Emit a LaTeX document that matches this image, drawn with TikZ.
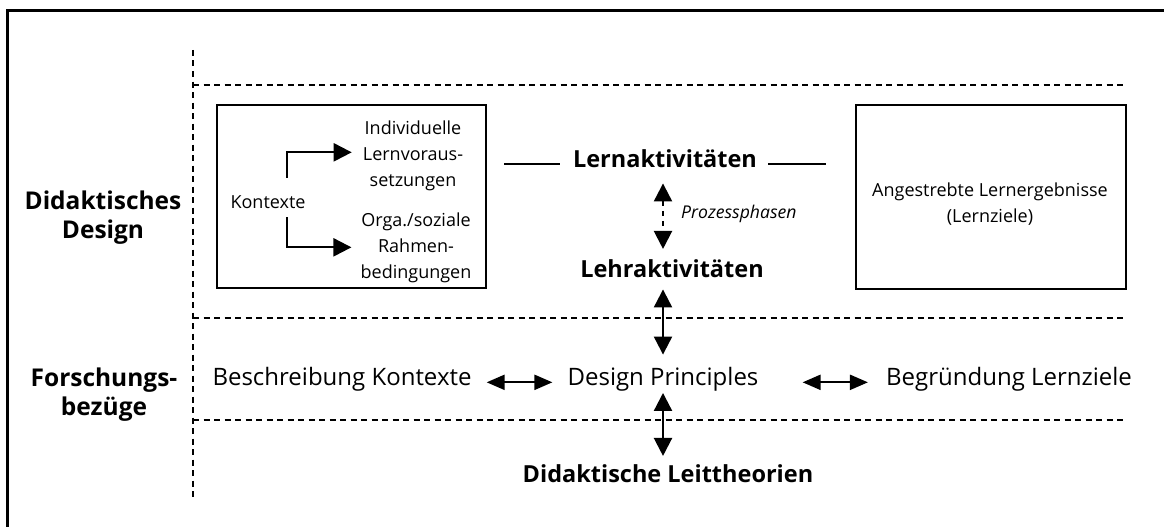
\documentclass[tikz,border=0pt]{standalone}
\usepackage{fontspec}
\setmainfont{Open Sans}
\usetikzlibrary{arrows.meta}

\tikzset{
  frameline/.style={line width=3pt},
  guide/.style={line width=2.1pt, dash pattern=on 6pt off 4.5pt},
  panel/.style={draw, line width=2.5pt, inner sep=0pt},
  rowlabel/.style={inner sep=0pt, align=center, anchor=base,
    font=\fontsize{24.5}{29}\selectfont\bfseries},
  bigtext/.style={inner sep=0pt, anchor=base, font=\fontsize{24}{29}\selectfont},
  headtext/.style={inner sep=0pt, anchor=base, font=\fontsize{23.5}{26}\selectfont\bfseries},
  boxtext/.style={inner sep=0pt, align=center, anchor=base, font=\fontsize{18}{26}\selectfont},
  tri/.style={-{Triangle[length=18pt,width=18pt]}, line width=2.2pt},
  vboth/.style={{Triangle[length=18pt,width=18pt]}-{Triangle[length=18pt,width=18pt]}, line width=2.2pt},
  hboth/.style={{Triangle[length=18pt,width=15pt]}-{Triangle[length=18pt,width=15pt]}, line width=2.2pt},
  plainline/.style={line width=2.2pt},
}

\begin{document}
\begin{tikzpicture}[x=1pt,y=-1pt]
  \useasboundingbox (0,0) rectangle (1164,527);
  \clip (0,0) rectangle (1164,527);

  % outer frame (left and top edges)
  \draw[frameline] (7,540) -- (7,11) -- (1180,11);

  % section guides
  \draw[guide] (193,50) -- (193,497);
  \draw[guide] (193,85) -- (1125,85);
  \draw[guide] (193,318) -- (1125,318);
  \draw[guide] (193,420) -- (1125,420);

  % row labels
  \node[rowlabel] (dd) at (103,238) {Didaktisches\\Design};
  \node[rowlabel] (fb) at (104,415) {Forschungs-\\bezüge};

  % context panel
  \node[panel, minimum width=269pt, minimum height=183pt] (ctx) at (351.5,196.5) {};
  \node[boxtext] (kon) at (268,208) {Kontexte};
  \node[boxtext] (ind) at (413,186) {Individuelle\\Lernvoraus-\\setzungen};
  \node[boxtext] (orga) at (416,278) {Orga./soziale\\Rahmen-\\bedingungen};

  % goals panel
  \node[panel, minimum width=270pt, minimum height=184pt] (goal) at (991,197) {};
  \node[boxtext] (goaltext) at (990,222) {Angestrebte Lernergebnisse\\(Lernziele)};

  % centre column
  \coordinate (axis) at (663,0);
  \node[headtext] (lern) at (665,167) {Lernaktivitäten};
  \node[headtext] (lehr) at (672,277) {Lehraktivitäten};
  \node[inner sep=0pt, anchor=base west, font=\fontsize{17.6}{22}\selectfont\itshape] (phase) at (681,218) {Prozessphasen};
  \node[headtext] (leit) at (668,482) {Didaktische Leittheorien};

  % research row
  \node[bigtext] (besch) at (342,385) {Beschreibung Kontexte};
  \node[bigtext] (dp) at (663,385) {Design Principles};
  \node[bigtext] (begr) at (1009,385) {Begründung Lernziele};

  % connectors inside the context panel
  \draw[tri] ([xshift=19pt,yshift=17pt]kon.north) |- ([xshift=-11pt,yshift=3pt]ind.west);
  \draw[tri] ([xshift=19pt,yshift=-9pt]kon.south) |- ([xshift=-9pt]orga.west);

  % lines from the learning activities to both panels
  \draw[plainline, shorten <=17pt, shorten >=13pt] (ctx.east |- lern.mid west) -- (lern.mid west);
  \draw[plainline, shorten <=11pt, shorten >=29pt] (lern.mid east) -- (goal.west |- lern.mid east);

  % vertical links
  \draw[vboth, dash pattern=on 5pt off 5pt, shorten <=16pt, shorten >=10pt] (lern.south -| axis) -- (lehr.north -| axis);
  \draw[vboth, shorten <=12pt, shorten >=12pt] (lehr.south -| axis) -- (dp.north -| axis);
  \draw[vboth, shorten <=2pt, shorten >=8pt] (dp.south -| axis) -- (leit.north -| axis);

  % horizontal links
  \draw[hboth, shorten <=15pt, shorten >=15pt] (besch.mid east) -- (dp.mid west);
  \draw[hboth, shorten <=44pt, shorten >=18pt] (dp.mid east) -- (begr.mid west);
\end{tikzpicture}
\end{document}
